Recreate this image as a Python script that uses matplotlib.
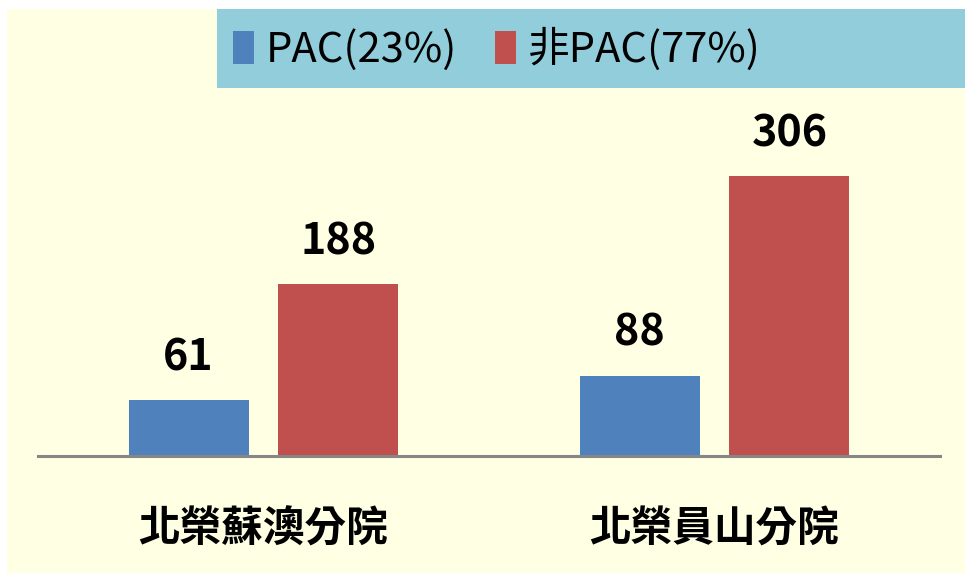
import matplotlib
matplotlib.use("Agg")
import matplotlib.pyplot as plt
from matplotlib.patches import Rectangle
import numpy as np

plt.rcParams["font.family"] = ["Noto Sans CJK TC", "DejaVu Sans"]

categories = ["北榮蘇澳分院", "北榮員山分院"]
pac_values = [61, 88]
non_pac_values = [188, 306]
series_labels = ["PAC(23%)", "非PAC(77%)"]

blue = "#4F81BD"
red = "#C0504D"
bg = "#FFFFE3"
legend_bg = "#92CDDC"

W, H = 965, 573
fig = plt.figure(figsize=(W / 100, H / 100), dpi=100)
fig.patch.set_facecolor("white")

# pale yellow chart area with a thin white margin top/left
fig.patches.append(
    Rectangle((7 / W, 0), 1, 1 - 9 / H, transform=fig.transFigure,
              facecolor=bg, edgecolor="none", zorder=-2)
)

# legend band
fig.patches.append(
    Rectangle((217 / W, 1 - 88 / H), 1, 79 / H, transform=fig.transFigure,
              facecolor=legend_bg, edgecolor="none", zorder=-1)
)

ax = fig.add_axes([38 / W, 117 / H, 902 / W, 320 / H])
ax.set_facecolor("none")
ax.set_zorder(2)

x = np.arange(len(categories))
width = 0.266
offset = 0.166

b1 = ax.bar(x - offset, pac_values, width, color=blue, label=series_labels[0])
b2 = ax.bar(x + offset, non_pac_values, width, color=red, label=series_labels[1])

for bars, vals in [(b1, pac_values), (b2, non_pac_values)]:
    for rect, v in zip(bars, vals):
        ax.annotate(
            str(v),
            (rect.get_x() + rect.get_width() / 2, v),
            xytext=(0, 15),
            textcoords="offset points",
            ha="center",
            va="bottom",
            fontsize=31,
            fontweight="bold",
        )

ax.set_xlim(-0.5, 1.5)
ax.set_ylim(0, 350)

for s in ["top", "right", "left"]:
    ax.spines[s].set_visible(False)
ax.spines["bottom"].set_color("#868686")
ax.spines["bottom"].set_linewidth(2.2)

ax.set_yticks([])
ax.set_xticks(x)
ax.set_xticklabels(categories, fontsize=30, fontweight="bold")
ax.tick_params(axis="x", length=0, pad=38)

leg = fig.legend(
    handles=[b1, b2],
    labels=series_labels,
    loc="center",
    bbox_to_anchor=(497 / W, 1 - 49 / H),
    ncol=2,
    frameon=False,
    prop={"size": 30},
    handlelength=0.5,
    handleheight=0.85,
    handletextpad=0.3,
    columnspacing=0.9,
)
leg.set_zorder(5)

fig.savefig("out.png", dpi=100, facecolor=fig.get_facecolor())
